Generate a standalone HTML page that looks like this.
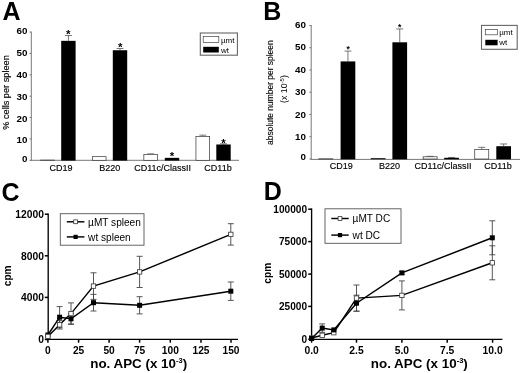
<!DOCTYPE html>
<html><head><meta charset="utf-8"><title>Figure</title>
<style>
html,body{margin:0;padding:0;background:#fff;}
body{width:520px;height:373px;overflow:hidden;font-family:"Liberation Sans",sans-serif;}
svg{display:block;will-change:transform;}
</style></head>
<body>
<svg width="520" height="373" viewBox="0 0 520 373">
<rect width="520" height="373" fill="#fff"/>
<text x="2.4" y="19.8" font-size="25" font-weight="bold" font-family="Liberation Sans, sans-serif">A</text>
<line x1="31.3" y1="31.58" x2="31.3" y2="160.8" stroke="#777" stroke-width="1"/>
<line x1="30.8" y1="160.3" x2="239" y2="160.3" stroke="#777" stroke-width="1"/>
<line x1="29.5" y1="160.3" x2="31.3" y2="160.3" stroke="#777" stroke-width="1"/>
<text x="27.5" y="162.05" font-size="9.8" font-weight="bold" text-anchor="end" font-family="Liberation Sans, sans-serif">0</text>
<line x1="29.5" y1="138.93" x2="31.3" y2="138.93" stroke="#777" stroke-width="1"/>
<text x="27.5" y="142.95" font-size="9.8" font-weight="bold" text-anchor="end" font-family="Liberation Sans, sans-serif">10</text>
<line x1="29.5" y1="117.56" x2="31.3" y2="117.56" stroke="#777" stroke-width="1"/>
<text x="27.5" y="121.95" font-size="9.8" font-weight="bold" text-anchor="end" font-family="Liberation Sans, sans-serif">20</text>
<line x1="29.5" y1="96.19" x2="31.3" y2="96.19" stroke="#777" stroke-width="1"/>
<text x="27.5" y="100.25" font-size="9.8" font-weight="bold" text-anchor="end" font-family="Liberation Sans, sans-serif">30</text>
<line x1="29.5" y1="74.82" x2="31.3" y2="74.82" stroke="#777" stroke-width="1"/>
<text x="27.5" y="78.45" font-size="9.8" font-weight="bold" text-anchor="end" font-family="Liberation Sans, sans-serif">40</text>
<line x1="29.5" y1="53.45" x2="31.3" y2="53.45" stroke="#777" stroke-width="1"/>
<text x="27.5" y="55.85" font-size="9.8" font-weight="bold" text-anchor="end" font-family="Liberation Sans, sans-serif">50</text>
<line x1="29.5" y1="32.08" x2="31.3" y2="32.08" stroke="#777" stroke-width="1"/>
<text x="27.5" y="34.1" font-size="9.8" font-weight="bold" text-anchor="end" font-family="Liberation Sans, sans-serif">60</text>
<rect x="40.65" y="160.09" width="13.7" height="0.21" fill="#fff" stroke="#333" stroke-width="0.7"/>
<line x1="68.4" y1="35.5" x2="68.4" y2="40.84" stroke="#555" stroke-width="0.8"/>
<line x1="64.9" y1="35.5" x2="71.9" y2="35.5" stroke="#555" stroke-width="0.8"/>
<rect x="61.2" y="40.84" width="14.4" height="119.76" fill="#000"/>
<rect x="92.35" y="156.67" width="13.7" height="3.63" fill="#fff" stroke="#333" stroke-width="0.7"/>
<line x1="120" y1="48.53" x2="120" y2="50.24" stroke="#555" stroke-width="0.8"/>
<line x1="116.5" y1="48.53" x2="123.5" y2="48.53" stroke="#555" stroke-width="0.8"/>
<rect x="112.8" y="50.24" width="14.4" height="110.36" fill="#000"/>
<line x1="150.7" y1="153.89" x2="150.7" y2="154.42" stroke="#555" stroke-width="0.8"/>
<line x1="147.2" y1="153.89" x2="154.2" y2="153.89" stroke="#555" stroke-width="0.8"/>
<rect x="143.85" y="154.42" width="13.7" height="5.88" fill="#fff" stroke="#333" stroke-width="0.7"/>
<rect x="164.8" y="157.84" width="14.4" height="2.76" fill="#000"/>
<line x1="202.8" y1="135.15" x2="202.8" y2="136.47" stroke="#555" stroke-width="0.8"/>
<line x1="199.3" y1="135.15" x2="206.3" y2="135.15" stroke="#555" stroke-width="0.8"/>
<rect x="195.95" y="136.47" width="13.7" height="23.83" fill="#fff" stroke="#333" stroke-width="0.7"/>
<line x1="223.5" y1="143.85" x2="223.5" y2="144.49" stroke="#555" stroke-width="0.8"/>
<line x1="220" y1="143.85" x2="227" y2="143.85" stroke="#555" stroke-width="0.8"/>
<rect x="216.3" y="144.49" width="14.4" height="16.11" fill="#000"/>
<text x="68.2" y="38" font-size="11.5" font-weight="bold" text-anchor="middle" font-family="Liberation Sans, sans-serif">*</text>
<text x="120.2" y="50.7" font-size="11.5" font-weight="bold" text-anchor="middle" font-family="Liberation Sans, sans-serif">*</text>
<text x="172.1" y="159.7" font-size="11.5" font-weight="bold" text-anchor="middle" font-family="Liberation Sans, sans-serif">*</text>
<text x="223.5" y="147.2" font-size="11.5" font-weight="bold" text-anchor="middle" font-family="Liberation Sans, sans-serif">*</text>
<text x="61" y="171.3" font-size="9.0" stroke="#000" stroke-width="0.15" text-anchor="middle" font-family="Liberation Sans, sans-serif">CD19</text>
<text x="109.8" y="171.3" font-size="9.0" stroke="#000" stroke-width="0.15" text-anchor="middle" font-family="Liberation Sans, sans-serif">B220</text>
<text x="162.6" y="171.3" font-size="9.0" stroke="#000" stroke-width="0.15" text-anchor="middle" font-family="Liberation Sans, sans-serif">CD11c/ClassII</text>
<text x="218" y="171.3" font-size="9.0" stroke="#000" stroke-width="0.15" text-anchor="middle" font-family="Liberation Sans, sans-serif">CD11b</text>
<text transform="translate(8.9,92.5) rotate(-90)" font-size="9.2" stroke="#000" stroke-width="0.15" text-anchor="middle" font-family="Liberation Sans, sans-serif">% cells per spleen</text>
<rect x="200.3" y="33" width="37.1" height="22.2" fill="#fff" stroke="#666" stroke-width="1.1"/>
<rect x="203.2" y="36.4" width="15.6" height="6.2" fill="#fff" stroke="#444" stroke-width="0.7"/>
<rect x="203.2" y="46.8" width="15.6" height="5.7" fill="#000"/>
<text x="220.9" y="42.8" font-size="8" font-family="Liberation Sans, sans-serif">µmt</text>
<text x="220.9" y="52.6" font-size="8" font-family="Liberation Sans, sans-serif">wt</text>
<text x="263.2" y="19.8" font-size="25" font-weight="bold" font-family="Liberation Sans, sans-serif">B</text>
<line x1="311.2" y1="25" x2="311.2" y2="159.5" stroke="#777" stroke-width="1"/>
<line x1="310.7" y1="159.4" x2="520" y2="159.4" stroke="#777" stroke-width="1"/>
<line x1="309.4" y1="159" x2="311.2" y2="159" stroke="#777" stroke-width="1"/>
<text x="306" y="159.65" font-size="9.8" font-weight="bold" text-anchor="end" font-family="Liberation Sans, sans-serif">0</text>
<line x1="309.4" y1="136.75" x2="311.2" y2="136.75" stroke="#777" stroke-width="1"/>
<text x="306" y="140.05" font-size="9.8" font-weight="bold" text-anchor="end" font-family="Liberation Sans, sans-serif">10</text>
<line x1="309.4" y1="114.5" x2="311.2" y2="114.5" stroke="#777" stroke-width="1"/>
<text x="306" y="117.65" font-size="9.8" font-weight="bold" text-anchor="end" font-family="Liberation Sans, sans-serif">20</text>
<line x1="309.4" y1="92.25" x2="311.2" y2="92.25" stroke="#777" stroke-width="1"/>
<text x="306" y="95.25" font-size="9.8" font-weight="bold" text-anchor="end" font-family="Liberation Sans, sans-serif">30</text>
<line x1="309.4" y1="70" x2="311.2" y2="70" stroke="#777" stroke-width="1"/>
<text x="306" y="72.95" font-size="9.8" font-weight="bold" text-anchor="end" font-family="Liberation Sans, sans-serif">40</text>
<line x1="309.4" y1="47.75" x2="311.2" y2="47.75" stroke="#777" stroke-width="1"/>
<text x="306" y="50.45" font-size="9.8" font-weight="bold" text-anchor="end" font-family="Liberation Sans, sans-serif">50</text>
<line x1="309.4" y1="25.5" x2="311.2" y2="25.5" stroke="#777" stroke-width="1"/>
<text x="306" y="28.35" font-size="9.8" font-weight="bold" text-anchor="end" font-family="Liberation Sans, sans-serif">60</text>
<rect x="318.75" y="158.78" width="14" height="0.22" fill="#fff" stroke="#333" stroke-width="0.7"/>
<line x1="347.95" y1="51.09" x2="347.95" y2="61.43" stroke="#555" stroke-width="0.8"/>
<line x1="344.45" y1="51.09" x2="351.45" y2="51.09" stroke="#555" stroke-width="0.8"/>
<rect x="340.6" y="61.43" width="14.7" height="97.87" fill="#000"/>
<rect x="371.15" y="158.44" width="14" height="0.56" fill="#fff" stroke="#333" stroke-width="0.7"/>
<line x1="399.75" y1="28.95" x2="399.75" y2="42.3" stroke="#555" stroke-width="0.8"/>
<line x1="396.25" y1="28.95" x2="403.25" y2="28.95" stroke="#555" stroke-width="0.8"/>
<rect x="392.4" y="42.3" width="14.7" height="117" fill="#000"/>
<line x1="430.15" y1="156.33" x2="430.15" y2="156.78" stroke="#555" stroke-width="0.8"/>
<line x1="426.65" y1="156.33" x2="433.65" y2="156.33" stroke="#555" stroke-width="0.8"/>
<rect x="423.15" y="156.78" width="14" height="2.22" fill="#fff" stroke="#333" stroke-width="0.7"/>
<line x1="451.55" y1="157.44" x2="451.55" y2="157.78" stroke="#555" stroke-width="0.8"/>
<line x1="448.05" y1="157.44" x2="455.05" y2="157.44" stroke="#555" stroke-width="0.8"/>
<rect x="444.2" y="157.78" width="14.7" height="1.52" fill="#000"/>
<line x1="481.75" y1="147.32" x2="481.75" y2="149.54" stroke="#555" stroke-width="0.8"/>
<line x1="478.25" y1="147.32" x2="485.25" y2="147.32" stroke="#555" stroke-width="0.8"/>
<rect x="474.75" y="149.54" width="14" height="9.46" fill="#fff" stroke="#333" stroke-width="0.7"/>
<line x1="503.65" y1="143.98" x2="503.65" y2="146.21" stroke="#555" stroke-width="0.8"/>
<line x1="500.15" y1="143.98" x2="507.15" y2="143.98" stroke="#555" stroke-width="0.8"/>
<rect x="496.3" y="146.21" width="14.7" height="13.09" fill="#000"/>
<text x="348.2" y="51.78" font-size="8.5" font-weight="bold" text-anchor="middle" font-family="Liberation Sans, sans-serif">*</text>
<text x="399.7" y="29.78" font-size="8.5" font-weight="bold" text-anchor="middle" font-family="Liberation Sans, sans-serif">*</text>
<text x="341.3" y="168.9" font-size="9.0" stroke="#000" stroke-width="0.15" text-anchor="middle" font-family="Liberation Sans, sans-serif">CD19</text>
<text x="389.6" y="168.9" font-size="9.0" stroke="#000" stroke-width="0.15" text-anchor="middle" font-family="Liberation Sans, sans-serif">B220</text>
<text x="443" y="168.9" font-size="9.0" stroke="#000" stroke-width="0.15" text-anchor="middle" font-family="Liberation Sans, sans-serif">CD11c/ClassII</text>
<text x="498" y="168.9" font-size="9.0" stroke="#000" stroke-width="0.15" text-anchor="middle" font-family="Liberation Sans, sans-serif">CD11b</text>
<text transform="translate(273.2,92.6) rotate(-90)" font-size="8.45" stroke="#000" stroke-width="0.12" text-anchor="middle" font-family="Liberation Sans, sans-serif">absolute number per spleen</text>
<text transform="translate(287.3,89.1) rotate(-90)" font-size="8.8" text-anchor="middle" font-family="Liberation Sans, sans-serif">(x 10<tspan font-size="6" dy="-3.4">-5</tspan><tspan dy="3.4">)</tspan></text>
<rect x="481.5" y="25.4" width="35.7" height="23.9" fill="#fff" stroke="#666" stroke-width="1.1"/>
<rect x="485.3" y="29.6" width="12.3" height="5.2" fill="#fff" stroke="#444" stroke-width="0.7"/>
<rect x="485.3" y="39.8" width="12.3" height="5.5" fill="#000"/>
<text x="499.2" y="34.9" font-size="8" font-family="Liberation Sans, sans-serif">µmt</text>
<text x="499.2" y="45.3" font-size="8" font-family="Liberation Sans, sans-serif">wt</text>
<text x="1.4" y="200.6" font-size="25" font-weight="bold" font-family="Liberation Sans, sans-serif">C</text>
<line x1="48.2" y1="213.4" x2="48.2" y2="340.1" stroke="#000" stroke-width="1.35"/>
<line x1="47.5" y1="339.3" x2="238" y2="339.3" stroke="#000" stroke-width="1.35"/>
<line x1="44.8" y1="214.2" x2="48.2" y2="214.2" stroke="#000" stroke-width="1.5"/>
<text x="44" y="217.9" font-size="10.3" font-weight="bold" text-anchor="end" font-family="Liberation Sans, sans-serif">12000</text>
<line x1="44.8" y1="255.8" x2="48.2" y2="255.8" stroke="#000" stroke-width="1.5"/>
<text x="44" y="259.5" font-size="10.3" font-weight="bold" text-anchor="end" font-family="Liberation Sans, sans-serif">8000</text>
<line x1="44.8" y1="297.4" x2="48.2" y2="297.4" stroke="#000" stroke-width="1.5"/>
<text x="44" y="301.1" font-size="10.3" font-weight="bold" text-anchor="end" font-family="Liberation Sans, sans-serif">4000</text>
<line x1="44.8" y1="339.5" x2="48.2" y2="339.5" stroke="#000" stroke-width="1.5"/>
<text x="44" y="343.2" font-size="10.3" font-weight="bold" text-anchor="end" font-family="Liberation Sans, sans-serif">0</text>
<line x1="47.9" y1="339.3" x2="47.9" y2="342.7" stroke="#000" stroke-width="1.5"/>
<text x="47.9" y="354.3" font-size="10.2" font-weight="bold" text-anchor="middle" font-family="Liberation Sans, sans-serif">0</text>
<line x1="78.6" y1="339.3" x2="78.6" y2="342.7" stroke="#000" stroke-width="1.5"/>
<text x="78.6" y="354.3" font-size="10.2" font-weight="bold" text-anchor="middle" font-family="Liberation Sans, sans-serif">25</text>
<line x1="109.1" y1="339.3" x2="109.1" y2="342.7" stroke="#000" stroke-width="1.5"/>
<text x="109.1" y="354.3" font-size="10.2" font-weight="bold" text-anchor="middle" font-family="Liberation Sans, sans-serif">50</text>
<line x1="139.6" y1="339.3" x2="139.6" y2="342.7" stroke="#000" stroke-width="1.5"/>
<text x="139.6" y="354.3" font-size="10.2" font-weight="bold" text-anchor="middle" font-family="Liberation Sans, sans-serif">75</text>
<line x1="170.3" y1="339.3" x2="170.3" y2="342.7" stroke="#000" stroke-width="1.5"/>
<text x="170.3" y="354.3" font-size="10.2" font-weight="bold" text-anchor="middle" font-family="Liberation Sans, sans-serif">100</text>
<line x1="201" y1="339.3" x2="201" y2="342.7" stroke="#000" stroke-width="1.5"/>
<text x="201" y="354.3" font-size="10.2" font-weight="bold" text-anchor="middle" font-family="Liberation Sans, sans-serif">125</text>
<line x1="231" y1="339.3" x2="231" y2="342.7" stroke="#000" stroke-width="1.5"/>
<text x="231" y="354.3" font-size="10.2" font-weight="bold" text-anchor="middle" font-family="Liberation Sans, sans-serif">150</text>
<line x1="59.6" y1="306.6" x2="59.6" y2="327.8" stroke="#444" stroke-width="0.9"/>
<line x1="56.6" y1="306.6" x2="62.6" y2="306.6" stroke="#444" stroke-width="0.9"/>
<line x1="56.6" y1="327.8" x2="62.6" y2="327.8" stroke="#444" stroke-width="0.9"/>
<line x1="71" y1="313.6" x2="71" y2="324" stroke="#444" stroke-width="0.9"/>
<line x1="68" y1="313.6" x2="74" y2="313.6" stroke="#444" stroke-width="0.9"/>
<line x1="68" y1="324" x2="74" y2="324" stroke="#444" stroke-width="0.9"/>
<line x1="93.5" y1="294.4" x2="93.5" y2="311" stroke="#444" stroke-width="0.9"/>
<line x1="90.5" y1="294.4" x2="96.5" y2="294.4" stroke="#444" stroke-width="0.9"/>
<line x1="90.5" y1="311" x2="96.5" y2="311" stroke="#444" stroke-width="0.9"/>
<line x1="139.6" y1="296.7" x2="139.6" y2="313.9" stroke="#444" stroke-width="0.9"/>
<line x1="136.6" y1="296.7" x2="142.6" y2="296.7" stroke="#444" stroke-width="0.9"/>
<line x1="136.6" y1="313.9" x2="142.6" y2="313.9" stroke="#444" stroke-width="0.9"/>
<line x1="230.8" y1="282" x2="230.8" y2="300.4" stroke="#444" stroke-width="0.9"/>
<line x1="227.8" y1="282" x2="233.8" y2="282" stroke="#444" stroke-width="0.9"/>
<line x1="227.8" y1="300.4" x2="233.8" y2="300.4" stroke="#444" stroke-width="0.9"/>
<line x1="59.6" y1="320.6" x2="59.6" y2="329" stroke="#444" stroke-width="0.9"/>
<line x1="56.6" y1="320.6" x2="62.6" y2="320.6" stroke="#444" stroke-width="0.9"/>
<line x1="56.6" y1="329" x2="62.6" y2="329" stroke="#444" stroke-width="0.9"/>
<line x1="71" y1="302.9" x2="71" y2="324.3" stroke="#444" stroke-width="0.9"/>
<line x1="68" y1="302.9" x2="74" y2="302.9" stroke="#444" stroke-width="0.9"/>
<line x1="68" y1="324.3" x2="74" y2="324.3" stroke="#444" stroke-width="0.9"/>
<line x1="93.5" y1="272.8" x2="93.5" y2="299.4" stroke="#444" stroke-width="0.9"/>
<line x1="90.5" y1="272.8" x2="96.5" y2="272.8" stroke="#444" stroke-width="0.9"/>
<line x1="90.5" y1="299.4" x2="96.5" y2="299.4" stroke="#444" stroke-width="0.9"/>
<line x1="139.6" y1="256.3" x2="139.6" y2="287.5" stroke="#444" stroke-width="0.9"/>
<line x1="136.6" y1="256.3" x2="142.6" y2="256.3" stroke="#444" stroke-width="0.9"/>
<line x1="136.6" y1="287.5" x2="142.6" y2="287.5" stroke="#444" stroke-width="0.9"/>
<line x1="230.8" y1="223.7" x2="230.8" y2="245.1" stroke="#444" stroke-width="0.9"/>
<line x1="227.8" y1="223.7" x2="233.8" y2="223.7" stroke="#444" stroke-width="0.9"/>
<line x1="227.8" y1="245.1" x2="233.8" y2="245.1" stroke="#444" stroke-width="0.9"/>
<polyline points="47.9,335 59.6,317.2 71,318.8 93.5,302.7 139.6,305.3 230.8,291.2" fill="none" stroke="#000" stroke-width="1.45"/>
<polyline points="47.9,336.4 59.6,324.8 71,313.6 93.5,286.1 139.6,271.9 230.8,234.4" fill="none" stroke="#000" stroke-width="1.45"/>
<rect x="45.4" y="332.5" width="5" height="5" fill="#000"/>
<rect x="57.1" y="314.7" width="5" height="5" fill="#000"/>
<rect x="68.5" y="316.3" width="5" height="5" fill="#000"/>
<rect x="91" y="300.2" width="5" height="5" fill="#000"/>
<rect x="137.1" y="302.8" width="5" height="5" fill="#000"/>
<rect x="228.3" y="288.7" width="5" height="5" fill="#000"/>
<rect x="45.7" y="334.2" width="4.4" height="4.4" fill="#fff" stroke="#333" stroke-width="0.8"/>
<rect x="57.4" y="322.6" width="4.4" height="4.4" fill="#fff" stroke="#333" stroke-width="0.8"/>
<rect x="68.8" y="311.4" width="4.4" height="4.4" fill="#fff" stroke="#333" stroke-width="0.8"/>
<rect x="91.3" y="283.9" width="4.4" height="4.4" fill="#fff" stroke="#333" stroke-width="0.8"/>
<rect x="137.4" y="269.7" width="4.4" height="4.4" fill="#fff" stroke="#333" stroke-width="0.8"/>
<rect x="228.6" y="232.2" width="4.4" height="4.4" fill="#fff" stroke="#333" stroke-width="0.8"/>
<text x="138.7" y="367.8" font-size="13.4" font-weight="bold" text-anchor="middle" font-family="Liberation Sans, sans-serif">no. APC (x 10<tspan font-size="7.5" dy="-4.8">-3</tspan><tspan dy="4.8">)</tspan></text>
<text transform="translate(11.4,275.8) rotate(-90)" font-size="10.2" font-weight="bold" text-anchor="middle" font-family="Liberation Sans, sans-serif">cpm</text>
<rect x="60.3" y="213.7" width="83.7" height="31.5" fill="#fff" stroke="#555" stroke-width="0.9"/>
<line x1="66.8" y1="221.8" x2="84.4" y2="221.8" stroke="#000" stroke-width="1.45"/>
<rect x="73.7" y="219.9" width="3.8" height="3.8" fill="#fff" stroke="#333" stroke-width="0.8"/>
<line x1="66.8" y1="236.9" x2="84.4" y2="236.9" stroke="#000" stroke-width="1.45"/>
<rect x="73.5" y="234.8" width="4.2" height="4.2" fill="#000"/>
<text x="88.1" y="225.7" font-size="10.1" font-family="Liberation Sans, sans-serif">µMT spleen</text>
<text x="88.1" y="240.5" font-size="10.1" font-family="Liberation Sans, sans-serif">wt spleen</text>
<text x="263.7" y="199.9" font-size="25" font-weight="bold" font-family="Liberation Sans, sans-serif">D</text>
<line x1="311.6" y1="208.4" x2="311.6" y2="340.1" stroke="#000" stroke-width="1.35"/>
<line x1="310.9" y1="339.3" x2="502.4" y2="339.3" stroke="#000" stroke-width="1.35"/>
<line x1="308.2" y1="209.2" x2="311.6" y2="209.2" stroke="#000" stroke-width="1.5"/>
<text x="307" y="212.9" font-size="10.1" font-weight="bold" text-anchor="end" font-family="Liberation Sans, sans-serif">100000</text>
<line x1="308.2" y1="241.6" x2="311.6" y2="241.6" stroke="#000" stroke-width="1.5"/>
<text x="307" y="245.3" font-size="10.1" font-weight="bold" text-anchor="end" font-family="Liberation Sans, sans-serif">75000</text>
<line x1="308.2" y1="274.1" x2="311.6" y2="274.1" stroke="#000" stroke-width="1.5"/>
<text x="307" y="277.8" font-size="10.1" font-weight="bold" text-anchor="end" font-family="Liberation Sans, sans-serif">50000</text>
<line x1="308.2" y1="306.4" x2="311.6" y2="306.4" stroke="#000" stroke-width="1.5"/>
<text x="307" y="310.1" font-size="10.1" font-weight="bold" text-anchor="end" font-family="Liberation Sans, sans-serif">25000</text>
<line x1="308.2" y1="339.3" x2="311.6" y2="339.3" stroke="#000" stroke-width="1.5"/>
<text x="307" y="343" font-size="10.1" font-weight="bold" text-anchor="end" font-family="Liberation Sans, sans-serif">0</text>
<line x1="311.6" y1="339.3" x2="311.6" y2="342.7" stroke="#000" stroke-width="1.5"/>
<text x="311.6" y="354.3" font-size="10.3" font-weight="bold" text-anchor="middle" font-family="Liberation Sans, sans-serif">0.0</text>
<line x1="356.5" y1="339.3" x2="356.5" y2="342.7" stroke="#000" stroke-width="1.5"/>
<text x="356.5" y="354.3" font-size="10.3" font-weight="bold" text-anchor="middle" font-family="Liberation Sans, sans-serif">2.5</text>
<line x1="401.9" y1="339.3" x2="401.9" y2="342.7" stroke="#000" stroke-width="1.5"/>
<text x="401.9" y="354.3" font-size="10.3" font-weight="bold" text-anchor="middle" font-family="Liberation Sans, sans-serif">5.0</text>
<line x1="447.2" y1="339.3" x2="447.2" y2="342.7" stroke="#000" stroke-width="1.5"/>
<text x="447.2" y="354.3" font-size="10.3" font-weight="bold" text-anchor="middle" font-family="Liberation Sans, sans-serif">7.5</text>
<line x1="492.6" y1="339.3" x2="492.6" y2="342.7" stroke="#000" stroke-width="1.5"/>
<text x="492.6" y="354.3" font-size="10.3" font-weight="bold" text-anchor="middle" font-family="Liberation Sans, sans-serif">10.0</text>
<line x1="356.5" y1="285" x2="356.5" y2="311.2" stroke="#444" stroke-width="0.9"/>
<line x1="353.5" y1="285" x2="359.5" y2="285" stroke="#444" stroke-width="0.9"/>
<line x1="353.5" y1="311.2" x2="359.5" y2="311.2" stroke="#444" stroke-width="0.9"/>
<line x1="401.9" y1="280.9" x2="401.9" y2="309.9" stroke="#444" stroke-width="0.9"/>
<line x1="398.9" y1="280.9" x2="404.9" y2="280.9" stroke="#444" stroke-width="0.9"/>
<line x1="398.9" y1="309.9" x2="404.9" y2="309.9" stroke="#444" stroke-width="0.9"/>
<line x1="492.3" y1="245.8" x2="492.3" y2="279.8" stroke="#444" stroke-width="0.9"/>
<line x1="489.3" y1="245.8" x2="495.3" y2="245.8" stroke="#444" stroke-width="0.9"/>
<line x1="489.3" y1="279.8" x2="495.3" y2="279.8" stroke="#444" stroke-width="0.9"/>
<line x1="322.2" y1="323.9" x2="322.2" y2="332.3" stroke="#444" stroke-width="0.9"/>
<line x1="319.2" y1="323.9" x2="325.2" y2="323.9" stroke="#444" stroke-width="0.9"/>
<line x1="319.2" y1="332.3" x2="325.2" y2="332.3" stroke="#444" stroke-width="0.9"/>
<line x1="356.5" y1="295.2" x2="356.5" y2="311.2" stroke="#444" stroke-width="0.9"/>
<line x1="353.5" y1="295.2" x2="359.5" y2="295.2" stroke="#444" stroke-width="0.9"/>
<line x1="353.5" y1="311.2" x2="359.5" y2="311.2" stroke="#444" stroke-width="0.9"/>
<line x1="401.9" y1="271.4" x2="401.9" y2="274.4" stroke="#444" stroke-width="0.9"/>
<line x1="398.9" y1="271.4" x2="404.9" y2="271.4" stroke="#444" stroke-width="0.9"/>
<line x1="398.9" y1="274.4" x2="404.9" y2="274.4" stroke="#444" stroke-width="0.9"/>
<line x1="492.3" y1="220.8" x2="492.3" y2="254.8" stroke="#444" stroke-width="0.9"/>
<line x1="489.3" y1="220.8" x2="495.3" y2="220.8" stroke="#444" stroke-width="0.9"/>
<line x1="489.3" y1="254.8" x2="495.3" y2="254.8" stroke="#444" stroke-width="0.9"/>
<polyline points="311.6,338 322.2,335.3 333.8,332.7 356.5,298.1 401.9,295.4 492.3,262.8" fill="none" stroke="#000" stroke-width="1.45"/>
<polyline points="311.6,338.5 322.2,328.1 333.8,329.9 356.5,303.2 401.9,272.9 492.3,237.8" fill="none" stroke="#000" stroke-width="1.45"/>
<rect x="309.4" y="335.8" width="4.4" height="4.4" fill="#fff" stroke="#333" stroke-width="0.8"/>
<rect x="320" y="333.1" width="4.4" height="4.4" fill="#fff" stroke="#333" stroke-width="0.8"/>
<rect x="331.6" y="330.5" width="4.4" height="4.4" fill="#fff" stroke="#333" stroke-width="0.8"/>
<rect x="354.3" y="295.9" width="4.4" height="4.4" fill="#fff" stroke="#333" stroke-width="0.8"/>
<rect x="399.7" y="293.2" width="4.4" height="4.4" fill="#fff" stroke="#333" stroke-width="0.8"/>
<rect x="490.1" y="260.6" width="4.4" height="4.4" fill="#fff" stroke="#333" stroke-width="0.8"/>
<rect x="309.1" y="336" width="5" height="5" fill="#000"/>
<rect x="319.7" y="325.6" width="5" height="5" fill="#000"/>
<rect x="331.3" y="327.4" width="5" height="5" fill="#000"/>
<rect x="354" y="300.7" width="5" height="5" fill="#000"/>
<rect x="399.4" y="270.4" width="5" height="5" fill="#000"/>
<rect x="489.8" y="235.3" width="5" height="5" fill="#000"/>
<text x="419.3" y="367.9" font-size="13.4" font-weight="bold" text-anchor="middle" font-family="Liberation Sans, sans-serif">no. APC (x 10<tspan font-size="7.5" dy="-4.8">-3</tspan><tspan dy="4.8">)</tspan></text>
<text transform="translate(271.3,273.2) rotate(-90)" font-size="10.2" font-weight="bold" text-anchor="middle" font-family="Liberation Sans, sans-serif">cpm</text>
<rect x="325" y="208.8" width="76" height="34.5" fill="#fff" stroke="#555" stroke-width="0.9"/>
<line x1="331.3" y1="218.5" x2="348.7" y2="218.5" stroke="#000" stroke-width="1.45"/>
<rect x="338.1" y="216.6" width="3.8" height="3.8" fill="#fff" stroke="#333" stroke-width="0.8"/>
<line x1="331.3" y1="235.1" x2="348.7" y2="235.1" stroke="#000" stroke-width="1.45"/>
<rect x="337.9" y="233" width="4.2" height="4.2" fill="#000"/>
<text x="352.6" y="222.1" font-size="10.1" font-family="Liberation Sans, sans-serif">µMT DC</text>
<text x="352.6" y="238.5" font-size="10.1" font-family="Liberation Sans, sans-serif">wt DC</text>
</svg>
</body></html>
